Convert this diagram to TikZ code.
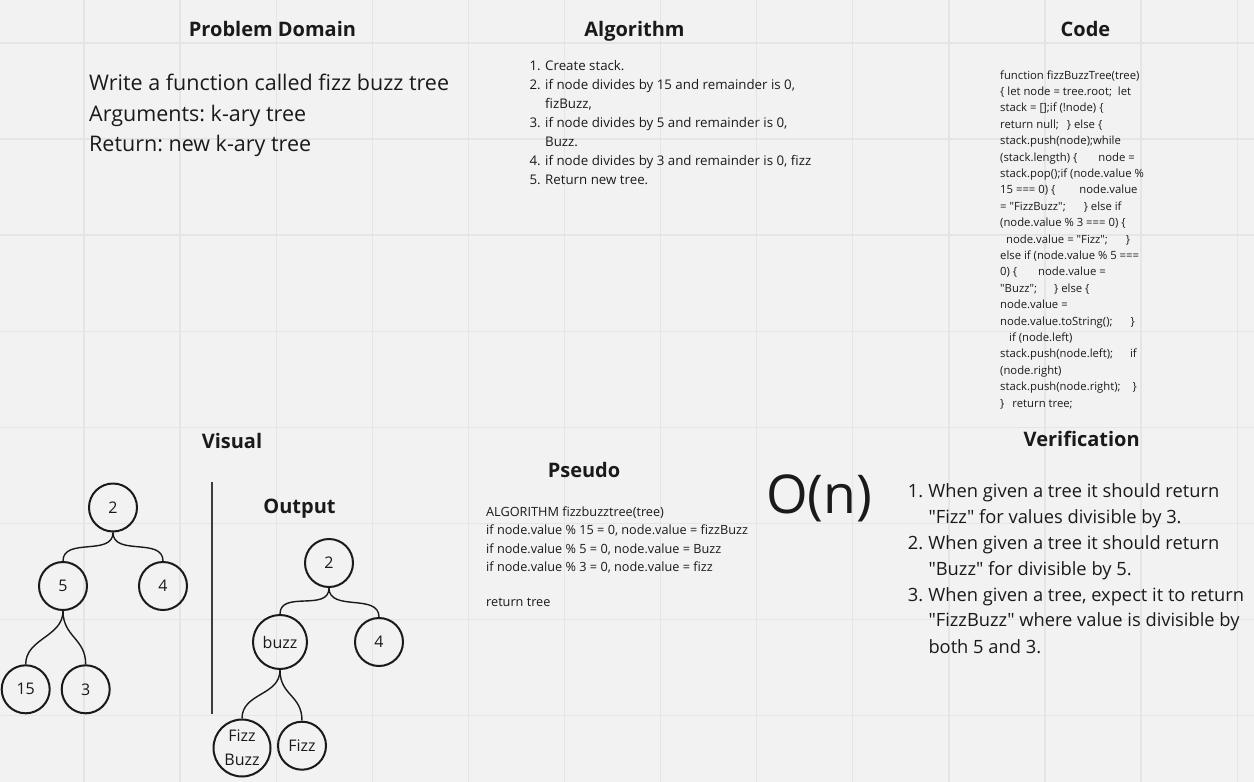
\documentclass[tikz,border=0pt]{standalone}
\usepackage{fontspec}
\setmainfont{Open Sans}[Ligatures=TeXOff]
\frenchspacing
\definecolor{bg}{HTML}{F2F2F2}
\definecolor{gridc}{HTML}{E5E5E5}
\definecolor{ink}{HTML}{1A1A1A}
\begin{document}
\begin{tikzpicture}[x=1pt,y=-1pt,
  gridline/.style={draw=gridc,line width=1.3pt},
  heading/.style={anchor=base,inner sep=0,text=ink,font=\bfseries\fontsize{20}{24}\selectfont},
  pdtxt/.style={anchor=base west,inner sep=0,text=ink,font=\fontsize{21.5}{30}\selectfont},
  algtxt/.style={anchor=base west,inner sep=0,text=ink,font=\fontsize{13.3}{19}\selectfont},
  codetxt/.style={anchor=base west,inner sep=0,text=ink,font=\fontsize{11.3}{16}\selectfont},
  pstxt/.style={anchor=base west,inner sep=0,text=ink,font=\fontsize{12.7}{18}\selectfont},
  vertxt/.style={anchor=base west,inner sep=0,text=ink,font=\fontsize{18.3}{26}\selectfont},
  bigtxt/.style={anchor=base west,inner sep=0,text=ink,font=\fontsize{53.5}{60}\selectfont},
  tnode/.style={circle,draw=ink,line width=2pt,minimum size=48pt,inner sep=0,text=ink,font=\fontsize{16}{24}\selectfont},
  link/.style={draw=ink,line width=1.4pt},
  divider/.style={draw=ink!85,line width=1.6pt}]
\useasboundingbox (0,0) rectangle (1254,782);
\fill[bg] (0,0) rectangle (1254,782);
% grid
\foreach \k in {0,...,12} \draw[gridline] ({84+96.1*\k},0) -- ({84+96.1*\k},782);
\foreach \k in {0,...,7} \draw[gridline] (0,{43+96.05*\k}) -- (1254,{43+96.05*\k});

% headings
\node[heading] (hpd) at (272.5,36.7) {Problem Domain};
\node[heading] (halg) at (634.5,36.7) {Algorithm};
\node[heading] (hcode) at (1085.5,36.7) {Code};
\node[heading] (hvis) at (232,448.3) {Visual};
\node[heading] (hout) at (299.5,513) {Output};
\node[heading] (hps) at (584,477.3) {Pseudo};
\node[heading] (hver) at (1081.7,446) {Verification};

% problem domain
\node[pdtxt] (pd1) at (89,90) {Write a function called fizz buzz tree};
\node[pdtxt] (pd2) at (89,121) {Arguments: k-ary tree};
\node[pdtxt] (pd3) at (89,151.5) {Return: new k-ary tree};

% algorithm
\node[algtxt] (al1) at (529.3,70) {\makebox[15.7pt][l]{1.}Create stack.};
\node[algtxt] (al2) at (529.3,89) {\makebox[15.7pt][l]{2.}if node divides by 15 and remainder is 0,};
\node[algtxt] (al2b) at (545,108) {fizBuzz,};
\node[algtxt] (al3) at (529.3,127) {\makebox[15.7pt][l]{3.}if node divides by 5 and remainder is 0,};
\node[algtxt] (al3b) at (545,146) {Buzz.};
\node[algtxt] (al4) at (529.3,165) {\makebox[15.7pt][l]{4.}if node divides by 3 and remainder is 0, fizz};
\node[algtxt] (al5) at (529.3,184) {\makebox[15.7pt][l]{5.}Return new tree.};

% code
\foreach \t [count=\i] in {
 {function fizzBuzzTree(tree)},
 {\{ let node = tree.root;\hspace{6pt}let},
 {stack = [];if (!node) \{},
 {return null;\hspace{8pt}\} else \{},
 {stack.push(node);while},
 {(stack.length) \{\hspace{21pt}node =},
 {stack.pop();if (node.value \%},
 {15 === 0) \{\hspace{24pt}node.value},
 {= "FizzBuzz";\hspace{18pt}\} else if},
 {(node.value \% 3 === 0) \{},
 {\hspace{6pt}node.value = "Fizz";\hspace{18pt}\}},
 {else if (node.value \% 5 ===},
 {0) \{\hspace{21pt}node.value =},
 {"Buzz";\hspace{17pt}\} else \{},
 {node.value =},
 {node.value.toString();\hspace{18pt}\}},
 {\hspace{9pt}if (node.left)},
 {stack.push(node.left);\hspace{17pt}if},
 {(node.right)},
 {stack.push(node.right);\hspace{12pt}\}},
 {\}\hspace{8pt}return tree;}}
 \node[codetxt] (code\i) at (1000,{79+16.4*(\i-1)}) {\t};

% pseudo
\node[pstxt] (ps1) at (486,516.7) {ALGORITHM fizzbuzztree(tree)};
\node[pstxt] (ps2) at (486,534.8) {if node.value \% 15 = 0, node.value = fizzBuzz};
\node[pstxt] (ps3) at (486,553) {if node.value \% 5 = 0, node.value = Buzz};
\node[pstxt] (ps4) at (486,571) {if node.value \% 3 = 0, node.value = fizz};
\node[pstxt] (ps5) at (486,606.7) {return tree};

% complexity
\node[bigtxt] (on) at (766,513.3) {O(n)};

% verification
\node[vertxt] (v1) at (907.7,497.7) {\makebox[20.6pt][l]{1.}When given a tree it should return};
\node[vertxt] (v1b) at (928.3,523.3) {"Fizz" for values divisible by 3.};
\node[vertxt] (v2) at (907.7,549.3) {\makebox[20.6pt][l]{2.}When given a tree it should return};
\node[vertxt] (v2b) at (928.3,575) {"Buzz" for divisible by 5.};
\node[vertxt] (v3) at (907.7,601) {\makebox[20.6pt][l]{3.}When given a tree, expect it to return};
\node[vertxt] (v3b) at (928.3,626.7) {"FizzBuzz" where value is divisible by};
\node[vertxt] (v3c) at (928.3,653.3) {both 5 and 3.};

% divider
\coordinate (dtop) at (211.8,482);
\coordinate (dbot) at (211.8,714);
\draw[divider] (dtop) -- (dbot);

% input tree
\node[tnode] (a2) at (113,507.5) {2};
\node[tnode] (a5) at (63,586) {5};
\node[tnode] (a4) at (163,586) {4};
\node[tnode] (a15) at (25.7,689.3) {15};
\node[tnode] (a3) at (85.7,689.3) {3};
\draw[link] (a2.south) .. controls +(0,24) and +(0,-24) .. (a5.north);
\draw[link] (a2.south) .. controls +(0,24) and +(0,-24) .. (a4.north);
\draw[link] (a5.south) .. controls +(0,26) and +(0,-26) .. (a15.north);
\draw[link] (a5.south) .. controls +(0,26) and +(0,-26) .. (a3.north);

% output tree
\node[tnode] (b2) at (329,563) {2};
\node[tnode,minimum size=54pt] (bbuzz) at (280,642) {buzz};
\node[tnode] (b4) at (379,642) {4};
\node[tnode,minimum size=57pt,align=center] (bfb) at (242,748) {Fizz\\Buzz};
\node[tnode] (bfizz) at (302,745.7) {Fizz};
\draw[link] (b2.south) .. controls +(0,24) and +(0,-24) .. (bbuzz.north);
\draw[link] (b2.south) .. controls +(0,24) and +(0,-24) .. (b4.north);
\draw[link] (bbuzz.south) .. controls +(0,26) and +(0,-26) .. (bfb.north);
\draw[link] (bbuzz.south) .. controls +(0,26) and +(0,-26) .. (bfizz.north);
\end{tikzpicture}
\end{document}
